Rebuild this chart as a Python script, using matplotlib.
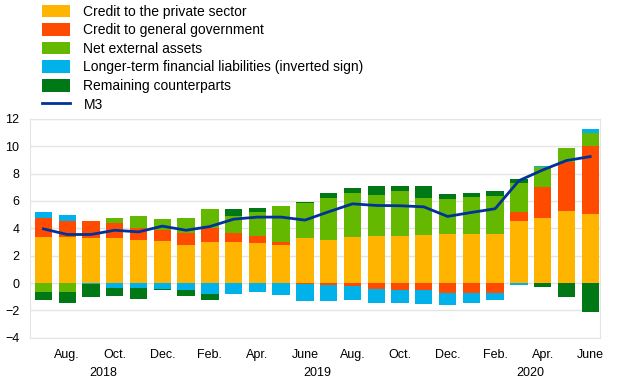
import matplotlib.pyplot as plt
import numpy as np
from matplotlib.patches import Patch
from matplotlib.lines import Line2D

plt.rcParams['font.family'] = ['Liberation Sans', 'DejaVu Sans']

# monthly data, July 2018 - June 2020 (annual growth contributions, pp)
months = ['July', 'Aug.', 'Sep.', 'Oct.', 'Nov.', 'Dec.', 'Jan.', 'Feb.', 'Mar.', 'Apr.', 'May', 'June',
          'July', 'Aug.', 'Sep.', 'Oct.', 'Nov.', 'Dec.', 'Jan.', 'Feb.', 'Mar.', 'Apr.', 'May', 'June']
years = ['2018', '2019', '2020']

private = [3.35, 3.35, 3.33, 3.30, 3.18, 3.08, 2.76, 3.03, 3.00, 2.93, 2.79, 3.30,
           3.18, 3.37, 3.47, 3.47, 3.50, 3.62, 3.62, 3.62, 4.55, 4.74, 5.26, 5.04]
government = [1.44, 1.22, 1.22, 1.08, 0.83, 0.81, 0.88, 0.98, 0.69, 0.52, 0.24, -0.07,
              -0.17, -0.22, -0.44, -0.49, -0.51, -0.71, -0.73, -0.73, 0.63, 2.30, 3.59, 5.01]
external = [-0.64, -0.64, 0.00, 0.41, 0.86, 0.76, 1.10, 1.42, 1.22, 1.73, 2.59, 2.54,
            3.01, 3.20, 2.96, 3.23, 2.69, 2.52, 2.69, 2.76, 2.13, 1.44, 1.00, 0.90]
longterm = [0.39, 0.42, -0.10, -0.37, -0.37, -0.44, -0.51, -0.81, -0.78, -0.68, -0.86, -1.25,
            -1.17, -1.00, -1.03, -0.93, -1.03, -0.88, -0.69, -0.52, -0.15, 0.05, 0.00, 0.30]
remaining = [-0.58, -0.83, -0.93, -0.58, -0.80, -0.10, -0.42, -0.39, 0.52, 0.27, 0.00, 0.05,
             0.37, 0.41, 0.68, 0.39, 0.90, 0.34, 0.27, 0.32, 0.32, -0.32, -0.98, -2.08]
m3 = [3.96, 3.55, 3.55, 3.86, 3.74, 4.16, 3.86, 4.13, 4.67, 4.82, 4.82, 4.60,
      5.21, 5.79, 5.67, 5.65, 5.57, 4.87, 5.16, 5.43, 7.48, 8.26, 8.95, 9.24]

series = [
    ('Credit to the private sector', private, '#FFB400'),
    ('Credit to general government', government, '#FF4B00'),
    ('Net external assets', external, '#65B800'),
    ('Longer-term financial liabilities (inverted sign)', longterm, '#00B1EA'),
    ('Remaining counterparts', remaining, '#007816'),
]

fig = plt.figure(figsize=(6.2, 3.87), dpi=100)
ax = fig.add_axes([0.049, 0.127, 0.919, 0.566])

x = np.arange(len(months))
pos_base = np.zeros(len(x))
neg_base = np.zeros(len(x))
for name, vals, col in series:
    v = np.array(vals)
    pos = np.where(v > 0, v, 0)
    neg = np.where(v < 0, v, 0)
    ax.bar(x, pos, 0.73, bottom=pos_base, color=col, linewidth=0, zorder=2)
    ax.bar(x, neg, 0.73, bottom=neg_base, color=col, linewidth=0, zorder=2)
    pos_base += pos
    neg_base += neg

ax.plot(x, m3, color='#003299', linewidth=2, zorder=3)

ax.set_ylim(-4, 12)
ax.set_yticks(np.arange(-4, 13, 2))
ax.set_xlim(-0.55, 23.42)
ax.grid(axis='y', color='#e4e4e4', linewidth=1, zorder=0)
for s in ax.spines.values():
    s.set_color('#e4e4e4')
ax.tick_params(axis='both', length=0, labelsize=9, colors='black')
ax.tick_params(axis='y', pad=8)

ax.set_xticks(x[1::2])
ax.set_xticklabels(months[1::2])
ax.tick_params(axis='x', pad=8)
for yr, xc in zip(years, [2.5, 11.5, 20.5]):
    ax.text(xc, -0.135, yr, transform=ax.get_xaxis_transform(), ha='center', va='top', fontsize=9)

handles = [Patch(facecolor=c, label=n) for n, _, c in series]
handles.append(Line2D([], [], color='#003299', linewidth=2, label='M3'))
fig.legend(handles=handles, loc='upper left', bbox_to_anchor=(0.064, 0.995), frameon=False,
           fontsize=10, handlelength=2.0, handleheight=1.0, handletextpad=0.95, labelspacing=0.33,
           borderaxespad=0, borderpad=0.2)

fig.savefig('out.png', dpi=100)
